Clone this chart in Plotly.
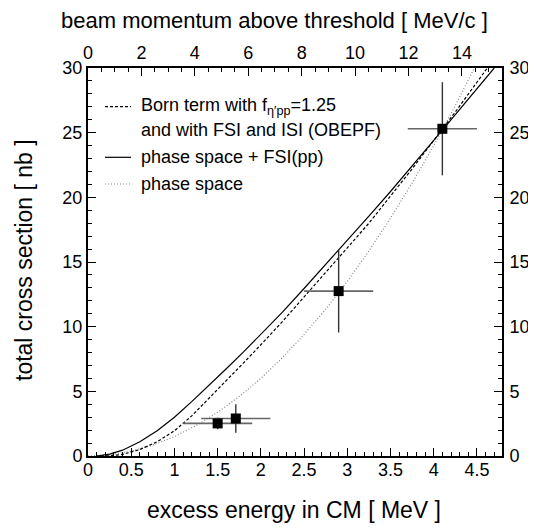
import plotly.graph_objects as go

# ---- data ----
data_q = [1.5, 1.71, 2.9, 4.1]
data_sigma = [2.52, 2.9, 12.75, 25.3]
data_q_err = [0.4, 0.4, 0.4, 0.4]
data_sigma_err = [0.45, 1.1, 3.2, 3.6]

fsi_q = [0.1, 0.25, 0.4, 0.6, 0.8, 1.0, 1.2, 1.4, 1.6, 1.8, 2.0, 2.25, 2.5, 2.75,
         3.0, 3.25, 3.5, 3.75, 4.0, 4.25, 4.5, 4.7]
fsi_sigma = [0.0, 0.15, 0.45, 1.1, 1.95, 3.0, 4.2, 5.45, 6.75, 8.05, 9.4, 11.12, 12.95, 14.8,
             16.65, 18.55, 20.45, 22.4, 24.4, 26.4, 28.4, 30.0]

born_q = [0.15, 0.25, 0.4, 0.6, 0.8, 1.0, 1.2, 1.4, 1.6, 1.8, 2.0, 2.25, 2.5, 2.75,
          3.0, 3.25, 3.5, 3.75, 4.0, 4.25, 4.5, 4.62]
born_sigma = [0.0, 0.02, 0.12, 0.5, 1.1, 1.95, 3.1, 4.45, 5.85, 7.2, 8.6, 10.4, 12.3, 14.2,
              16.1, 18.0, 20.1, 22.2, 24.4, 26.6, 28.9, 30.0]

ps_q = [0.0, 0.25, 0.5, 0.75, 1.0, 1.25, 1.5, 1.75, 2.0, 2.25, 2.5, 2.75, 3.0, 3.25,
        3.5, 3.75, 4.0, 4.25, 4.47]
ps_sigma = [0.0, 0.09, 0.38, 0.85, 1.5, 2.35, 3.38, 4.6, 6.0, 7.6, 9.4, 11.35, 13.5, 15.85,
            18.4, 21.1, 24.0, 27.1, 30.0]

x_ticks = [0, 0.5, 1, 1.5, 2, 2.5, 3, 3.5, 4, 4.5]
x_tick_labels = ["0", "0.5", "1", "1.5", "2", "2.5", "3", "3.5", "4", "4.5"]
top_ticks = [0, 2, 4, 6, 8, 10, 12, 14]
y_ticks = [0, 5, 10, 15, 20, 25, 30]

legend_labels = ["Born term with f<sub>η′pp</sub>=1.25",
                 "and with FSI and ISI (OBEPF)",
                 "phase space + FSI(pp)",
                 "phase space"]

x_title = "excess energy in CM [ MeV ]"
top_title = "beam momentum above threshold [ MeV/c ]"
y_title = "total cross section [ nb ]"

FONT = "Liberation Sans, Arial, sans-serif"
W, H = 536, 531
OFF = 8  # page body margin of the browser
L, T = 88 - OFF, 68 - OFF
R = W - (502 - OFF)
B = H - (456 - OFF)

fig = go.Figure()
fig.add_trace(go.Scatter(x=ps_q, y=ps_sigma, mode="lines",
                         line=dict(color="#888888", width=1.2, dash="1px,2px"),
                         showlegend=False, hoverinfo="skip"))
fig.add_trace(go.Scatter(x=born_q, y=born_sigma, mode="lines",
                         line=dict(color="black", width=1.2, dash="3px,2px"),
                         showlegend=False, hoverinfo="skip"))
fig.add_trace(go.Scatter(x=fsi_q, y=fsi_sigma, mode="lines",
                         line=dict(color="black", width=1.2),
                         showlegend=False, hoverinfo="skip"))
fig.add_trace(go.Scatter(x=data_q, y=data_sigma, mode="markers",
                         marker=dict(symbol="square", size=10, color="black"),
                         error_x=dict(type="data", array=data_q_err, color="#666666",
                                      thickness=1.6, width=0),
                         error_y=dict(type="data", array=data_sigma_err, color="#333333",
                                      thickness=1.4, width=0),
                         showlegend=False))
# placeholder trace so the secondary (top / right) axes are drawn
fig.add_trace(go.Scatter(x=top_ticks, y=[None] * len(top_ticks), xaxis="x2", yaxis="y2",
                         mode="markers", showlegend=False, hoverinfo="skip"))

axis_common = dict(showline=True, linecolor="black", linewidth=2, mirror=False,
                   ticks="inside", tickcolor="black", showgrid=False, zeroline=False,
                   automargin=False, ticklen=8,
                   tickfont=dict(family=FONT, size=18, color="black"))

fig.update_layout(
    width=W, height=H,
    margin=dict(l=L, r=R, t=T, b=B),
    paper_bgcolor="white", plot_bgcolor="white",
    font=dict(family=FONT, color="black"),
    xaxis=dict(range=[0, 4.79], tickvals=x_ticks, ticktext=x_tick_labels,
               ticklabelstandoff=-4,
               minor=dict(dtick=0.1, ticklen=4, ticks="inside", tickcolor="black"),
               **axis_common),
    xaxis2=dict(range=[0, 15.5], overlaying="x", side="top", anchor="y2",
                tickvals=top_ticks,
                minor=dict(dtick=0.5, ticklen=4, ticks="inside", tickcolor="black"),
                **axis_common),
    yaxis=dict(range=[0, 30], tickvals=y_ticks,
               minor=dict(dtick=1, ticklen=4, ticks="inside", tickcolor="black"),
               **axis_common),
    yaxis2=dict(range=[0, 30], overlaying="y", side="right", anchor="x2",
                tickvals=y_ticks, ticklabelstandoff=2,
                minor=dict(dtick=1, ticklen=4, ticks="inside", tickcolor="black"),
                **axis_common),
)

PW, PH = W - L - R, H - T - B


def px_x(p):
    # reference screen pixel -> paper fraction
    return (p - OFF - L) / PW


def px_y(p):
    return (H - B - (p - OFF)) / PH


# axis titles
fig.add_annotation(x=px_x(294), y=px_y(510), xref="paper", yref="paper", text=x_title,
                   showarrow=False, xanchor="center", yanchor="middle",
                   font=dict(family=FONT, size=23, color="black"))
fig.add_annotation(x=px_x(274), y=px_y(20), xref="paper", yref="paper", text=top_title,
                   showarrow=False, xanchor="center", yanchor="middle", borderpad=0,
                   font=dict(family=FONT, size=22, color="black"))
fig.add_annotation(x=px_x(24), y=px_y(260), xref="paper", yref="paper", text=y_title,
                   showarrow=False, xanchor="center", yanchor="middle", textangle=-90,
                   font=dict(family=FONT, size=23, color="black"))

# legend (drawn in paper coordinates)
text_rows = [106.7, 130.0, 157.3, 184.0]
for lbl, row in zip(legend_labels, text_rows):
    fig.add_annotation(x=px_x(139), y=px_y(row), xref="paper", yref="paper",
                       text=lbl, showarrow=False, xanchor="left", yanchor="middle",
                       font=dict(family=FONT, size=18, color="black"))

legend_styles = [(106.7, "black", "3px,2px"), (157.3, "black", "solid"), (184.0, "#888888", "1px,2px")]
for row, col, dash in legend_styles:
    fig.add_shape(type="line", xref="paper", yref="paper",
                  x0=px_x(105), x1=px_x(131), y0=px_y(row), y1=px_y(row),
                  line=dict(color=col, width=1.2, dash=dash))

fig.write_html("out.html")
